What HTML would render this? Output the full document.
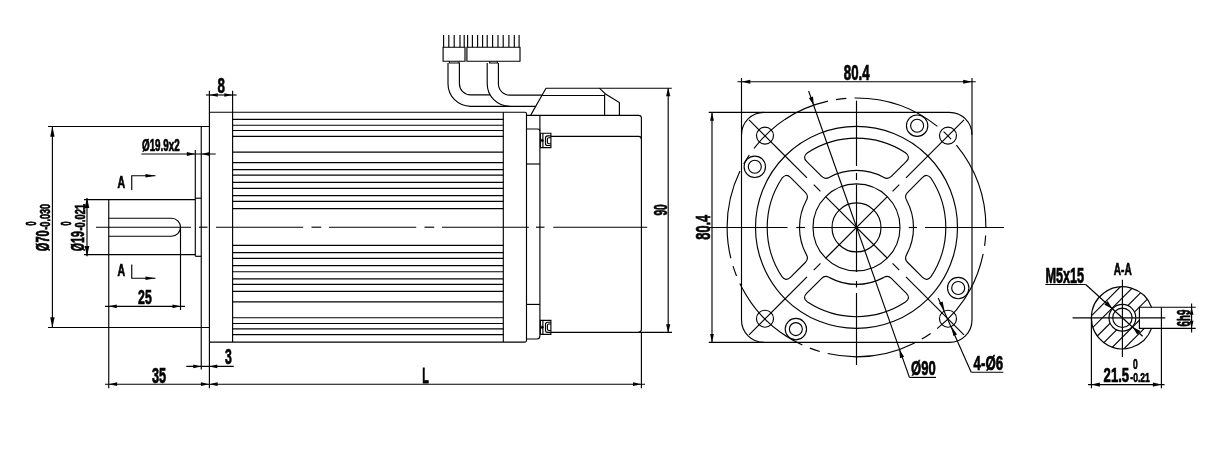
<!DOCTYPE html>
<html><head><meta charset="utf-8"><title>Motor drawing</title>
<style>
html,body{margin:0;padding:0;background:#fff;}
body{width:1223px;height:469px;overflow:hidden;font-family:"Liberation Sans",sans-serif;}
svg{display:block;}
svg line,svg path,svg circle{fill:none;stroke:#000;stroke-width:1.15;}
svg .ar{fill:#000;stroke:none;}
svg text{font-family:"Liberation Sans",sans-serif;font-weight:700;fill:#000;stroke:#000;vector-effect:non-scaling-stroke;}
</style></head><body>
<svg width="1223" height="469" viewBox="0 0 1223 469">
<rect x="0" y="0" width="1223" height="469" fill="#fff"/>
<g opacity="0.999">
<g id="side">
<line x1="84" y1="199.6" x2="195.3" y2="199.6"/>
<line x1="84" y1="254.6" x2="195.3" y2="254.6"/>
<line x1="108.75" y1="199.5" x2="108.75" y2="388.2"/>
<path d="M108.75 218.25H171.5A9 9 0 0 1 171.5 236.25H108.75"/>
<line x1="180.5" y1="227" x2="180.5" y2="310"/>
<line x1="195.3" y1="150" x2="195.3" y2="256.3"/>
<line x1="195.3" y1="198.2" x2="201.25" y2="198.2"/>
<line x1="195.3" y1="256.3" x2="201.25" y2="256.3"/>
<line x1="201.25" y1="126.5" x2="201.25" y2="369.6"/>
<line x1="48" y1="126.5" x2="209.25" y2="126.5"/>
<line x1="48" y1="327.5" x2="209.25" y2="327.5"/>
<line x1="209.4" y1="90.8" x2="209.4" y2="388.2"/>
<line x1="232.6" y1="90.8" x2="232.6" y2="342.1"/>
<path d="M209.4 112.25H525Q526.5 112.25 526.5 113.75V340.6Q526.5 342.1 525 342.1H209.4" stroke-width="1.25"/>
<line x1="232.5" y1="119.4" x2="503.3" y2="119.4" stroke-width="1"/>
<line x1="232.5" y1="334.6" x2="503.3" y2="334.6" stroke-width="1"/>
<line x1="232.5" y1="125.2" x2="503.3" y2="125.2" stroke-width="1"/>
<line x1="232.5" y1="328.8" x2="503.3" y2="328.8" stroke-width="1"/>
<line x1="232.5" y1="130.5" x2="503.3" y2="130.5" stroke-width="1"/>
<line x1="232.5" y1="323.5" x2="503.3" y2="323.5" stroke-width="1"/>
<line x1="232.5" y1="136.3" x2="503.3" y2="136.3" stroke-width="1"/>
<line x1="232.5" y1="317.7" x2="503.3" y2="317.7" stroke-width="1"/>
<line x1="232.5" y1="152.1" x2="503.3" y2="152.1" stroke-width="1"/>
<line x1="232.5" y1="301.9" x2="503.3" y2="301.9" stroke-width="1"/>
<line x1="232.5" y1="162.6" x2="503.3" y2="162.6" stroke-width="1"/>
<line x1="232.5" y1="291.4" x2="503.3" y2="291.4" stroke-width="1"/>
<line x1="232.5" y1="169.6" x2="503.3" y2="169.6" stroke-width="1"/>
<line x1="232.5" y1="284.4" x2="503.3" y2="284.4" stroke-width="1"/>
<line x1="232.5" y1="175.1" x2="503.3" y2="175.1" stroke-width="1"/>
<line x1="232.5" y1="278.9" x2="503.3" y2="278.9" stroke-width="1"/>
<line x1="232.5" y1="182.3" x2="503.3" y2="182.3" stroke-width="1"/>
<line x1="232.5" y1="271.7" x2="503.3" y2="271.7" stroke-width="1"/>
<line x1="232.5" y1="188.4" x2="503.3" y2="188.4" stroke-width="1"/>
<line x1="232.5" y1="265.6" x2="503.3" y2="265.6" stroke-width="1"/>
<line x1="232.5" y1="195.6" x2="503.3" y2="195.6" stroke-width="1"/>
<line x1="232.5" y1="258.4" x2="503.3" y2="258.4" stroke-width="1"/>
<line x1="232.5" y1="201.4" x2="503.3" y2="201.4" stroke-width="1"/>
<line x1="232.5" y1="252.6" x2="503.3" y2="252.6" stroke-width="1"/>
<line x1="232.5" y1="208.6" x2="503.3" y2="208.6" stroke-width="1"/>
<line x1="232.5" y1="245.4" x2="503.3" y2="245.4" stroke-width="1"/>
<line x1="503.3" y1="112.25" x2="503.3" y2="342.1"/>
<line x1="539.9" y1="115.3" x2="539.9" y2="336" stroke-width="1"/>
<path d="M526.5 129H537.9Q539.9 129 539.9 131.2"/>
<line x1="526.5" y1="164" x2="539.9" y2="164"/>
<line x1="526.5" y1="304.4" x2="539.9" y2="304.4"/>
<path d="M539.9 336Q539.9 339 536.9 339H526.5"/>
<path d="M526.5 115.3H638.6Q641.4 115.3 641.4 118.1V329.3Q641.4 332.3 638.4 332.3H550.9" stroke-width="1.25"/>
<path d="M550.9 136.4H638.6Q641.4 136.4 641.4 139.2"/>
<line x1="641.4" y1="332.3" x2="641.4" y2="388.2"/>
<path d="M540.4 133.25 H550.9V147.6H540.4Z"/>
<line x1="542.9" y1="133.25" x2="542.9" y2="147.6" stroke-width="0.9"/>
<path d="M550.9 135.9 H547.6Q545.5 135.9 545.5 138V143.4Q545.5 145.5 547.6 145.5H550.9"/>
<path d="M550.9 137.7 H548.8Q547.4 137.7 547.4 139.1V142.3Q547.4 143.7 548.8 143.7H550.9" stroke-width="0.8"/>
<path d="M540 140.43 H543.6M541.6 138.83 L543.2 140.43 L541.6 142.03" stroke-width="0.8"/>
<path d="M540.4 320.3 H550.9V334.4H540.4Z"/>
<line x1="542.9" y1="320.3" x2="542.9" y2="334.4" stroke-width="0.9"/>
<path d="M550.9 322.2 H547.6Q545.5 322.2 545.5 324.3V330.2Q545.5 332.3 547.6 332.3H550.9"/>
<path d="M550.9 324 H548.8Q547.4 324 547.4 325.4V329.1Q547.4 330.5 548.8 330.5H550.9" stroke-width="0.8"/>
<path d="M540 327.35 H543.6M541.6 325.75 L543.2 327.35 L541.6 328.95" stroke-width="0.8"/>
<path d="M530.7 115.1L546 88.2H599.4L605.5 94L619.4 102.6V115.5"/>
<line x1="604.6" y1="94.2" x2="604.6" y2="115.5"/>
<line x1="542.2" y1="95.5" x2="604.6" y2="95.5"/>
<line x1="599.4" y1="88.2" x2="671.8" y2="88.2"/>
<path d="M487.2 63V83.8A22.5 22.5 0 0 0 509.7 106.3"/>
<path d="M498.4 63V83.8A11.3 11.3 0 0 0 509.7 95.1H542.1"/>
<path d="M448 63V83.8A22.5 22.5 0 0 0 470.5 106.3H535.7"/>
<path d="M459.4 63V83.8A11.1 11.1 0 0 0 470.5 94.9H490.2"/>
<path d="M449.4 61.2V63H459V61.2M489.7 61.2V63H497.4V61.2"/>
<path d="M443.1 47.2H465V61.2H443.1Z"/>
<path d="M466.9 47.2H520V61.2H466.9Z"/>
<line x1="443.6" y1="35.1" x2="443.6" y2="47.2"/>
<line x1="448.8" y1="35.1" x2="448.8" y2="47.2"/>
<line x1="454.2" y1="35.1" x2="454.2" y2="47.2"/>
<line x1="460" y1="35.1" x2="460" y2="47.2"/>
<line x1="464.2" y1="35.1" x2="464.2" y2="47.2"/>
<line x1="467.6" y1="35.1" x2="467.6" y2="47.2"/>
<line x1="472.4" y1="35.1" x2="472.4" y2="47.2"/>
<line x1="477.6" y1="35.1" x2="477.6" y2="47.2"/>
<line x1="482.6" y1="35.1" x2="482.6" y2="47.2"/>
<line x1="487.2" y1="35.1" x2="487.2" y2="47.2"/>
<line x1="492.6" y1="35.1" x2="492.6" y2="47.2"/>
<line x1="498" y1="35.1" x2="498" y2="47.2"/>
<line x1="503.2" y1="35.1" x2="503.2" y2="47.2"/>
<line x1="508.9" y1="35.1" x2="508.9" y2="47.2"/>
<line x1="514.3" y1="35.1" x2="514.3" y2="47.2"/>
<line x1="519.1" y1="35.1" x2="519.1" y2="47.2"/>
<line x1="96" y1="227.2" x2="191" y2="227.2"/>
<line x1="199" y1="227.2" x2="207.5" y2="227.2"/>
<line x1="216" y1="227.2" x2="303.2" y2="227.2"/>
<line x1="311.5" y1="227.2" x2="321.2" y2="227.2"/>
<line x1="329" y1="227.2" x2="416.2" y2="227.2"/>
<line x1="424.5" y1="227.2" x2="434.2" y2="227.2"/>
<line x1="442" y1="227.2" x2="528.8" y2="227.2"/>
<line x1="536" y1="227.2" x2="544.5" y2="227.2"/>
<line x1="553.2" y1="227.2" x2="647.2" y2="227.2"/>
</g>
<g id="sdim">
<line x1="205.9" y1="95" x2="236.6" y2="95"/>
<polygon class="ar" points="209.4,95 217.7,93.3 217.7,96.7"/>
<polygon class="ar" points="232.6,95 224.3,96.7 224.3,93.3"/>
<text transform="translate(217.4 92.89) scale(0.6269 1)" font-size="21.27" stroke-width="0.6">8</text>
<line x1="52.4" y1="126.5" x2="52.4" y2="327.5"/>
<polygon class="ar" points="52.4,126.3 54.6,136.7 50.2,136.7"/>
<polygon class="ar" points="52.4,327.7 50.2,317.3 54.6,317.3"/>
<line x1="87" y1="198" x2="87" y2="256.3"/>
<polygon class="ar" points="87,197.6 89.3,208 84.7,208"/>
<polygon class="ar" points="87,256.4 84.7,246 89.3,246"/>
<line x1="141.3" y1="154" x2="215.7" y2="154"/>
<polygon class="ar" points="195.3,154 186.8,155.9 186.8,152.1"/>
<polygon class="ar" points="201.25,154 209.75,152.1 209.75,155.9"/>
<text transform="translate(142 151.17) scale(0.6226 1)" font-size="15.79" stroke-width="0.6">Ø19.9x2</text>
<line x1="105" y1="306.3" x2="185" y2="306.3"/>
<polygon class="ar" points="108.75,306.3 116.75,304.4 116.75,308.2"/>
<polygon class="ar" points="180.5,306.3 172.5,308.2 172.5,304.4"/>
<text transform="translate(138.1 304.19) scale(0.5842 1)" font-size="21.13" stroke-width="0.6">25</text>
<line x1="186.25" y1="366.4" x2="233.75" y2="366.4"/>
<polygon class="ar" points="201.25,366.4 193.25,368.3 193.25,364.5"/>
<polygon class="ar" points="209.25,366.4 217.25,364.5 217.25,368.3"/>
<text transform="translate(225.1 364.19) scale(0.5761 1)" font-size="21.27" stroke-width="0.6">3</text>
<line x1="105" y1="384.2" x2="645" y2="384.2"/>
<polygon class="ar" points="108.75,384.2 117.15,382.3 117.15,386.1"/>
<polygon class="ar" points="209.25,384.2 200.85,386.1 200.85,382.3"/>
<polygon class="ar" points="209.25,384.2 217.65,382.3 217.65,386.1"/>
<polygon class="ar" points="641.4,384.2 633,386.1 633,382.3"/>
<text transform="translate(152 382.68) scale(0.5856 1)" font-size="21.69" stroke-width="0.6">35</text>
<text transform="translate(422.3 382.8) scale(0.4879 1)" font-size="22.17" stroke-width="0.6">L</text>
<line x1="668.2" y1="88.2" x2="668.2" y2="332.3"/>
<polygon class="ar" points="668.2,87.8 670.3,96.2 666.1,96.2"/>
<polygon class="ar" points="668.2,332.7 666.1,324.3 670.3,324.3"/>
<line x1="638.4" y1="332.3" x2="672" y2="332.3"/>
<text transform="translate(666.52 215.6) rotate(-90) scale(0.5518 1)" font-size="18.45" stroke-width="0.6">90</text>
<text transform="translate(49.46 251.2) rotate(-90) scale(0.5960 1)" font-size="18.55" stroke-width="0.6">Ø70</text>
<text transform="translate(50.05 229.7) rotate(-90) scale(0.6096 1)" font-size="14.93" stroke-width="0.6">-0.030</text>
<text transform="translate(36.06 225.6) rotate(-90) scale(0.5169 1)" font-size="13.94" stroke-width="0.8" font-weight="400">0</text>
<text transform="translate(84.23 251.2) rotate(-90) scale(0.5536 1)" font-size="19.21" stroke-width="0.6">Ø19</text>
<text transform="translate(84.86 230.5) rotate(-90) scale(0.6531 1)" font-size="14.37" stroke-width="0.6">-0.021</text>
<text transform="translate(70.76 225.6) rotate(-90) scale(0.5169 1)" font-size="13.94" stroke-width="0.8" font-weight="400">0</text>
<text transform="translate(117.5 188.3) scale(0.6621 1)" font-size="15.94" stroke-width="0.6">A</text>
<text transform="translate(117.5 275.9) scale(0.6621 1)" font-size="15.94" stroke-width="0.6">A</text>
<path d="M131.75 190V175.7H155.5"/>
<polygon class="ar" points="155.5,175.7 145.5,177.5 145.5,173.9"/>
<path d="M131.75 264.5V278.2H155.5"/>
<polygon class="ar" points="155.5,278.2 145.5,280 145.5,276.4"/>
</g>
<g id="front">
<path d="M764 112.35H949.5A22.5 22.5 0 0 1 972 134.85V319.9A22.5 22.5 0 0 1 949.5 342.4H764A22.5 22.5 0 0 1 741.5 319.9V134.85A22.5 22.5 0 0 1 764 112.35Z"/>
<circle cx="856.5" cy="227.4" r="101"/>
<circle cx="856.5" cy="227.4" r="43.5"/>
<circle cx="856.5" cy="227.4" r="24.5"/>
<path d="M-48.95 -74.69 A89.3 89.3 0 0 1 48.95 -74.69 Q54.57 -70.69 49.69 -65.81 L34.82 -50.95 Q31.43 -47.55 26.97 -50.22 A57 57 0 0 0 -26.97 -50.22 Q-31.43 -47.55 -34.82 -50.95 L-49.69 -65.81 Q-54.57 -70.69 -48.95 -74.69Z" transform="translate(856.5 227.4) rotate(0)"/>
<path d="M-48.95 -74.69 A89.3 89.3 0 0 1 48.95 -74.69 Q54.57 -70.69 49.69 -65.81 L34.82 -50.95 Q31.43 -47.55 26.97 -50.22 A57 57 0 0 0 -26.97 -50.22 Q-31.43 -47.55 -34.82 -50.95 L-49.69 -65.81 Q-54.57 -70.69 -48.95 -74.69Z" transform="translate(856.5 227.4) rotate(90)"/>
<path d="M-48.95 -74.69 A89.3 89.3 0 0 1 48.95 -74.69 Q54.57 -70.69 49.69 -65.81 L34.82 -50.95 Q31.43 -47.55 26.97 -50.22 A57 57 0 0 0 -26.97 -50.22 Q-31.43 -47.55 -34.82 -50.95 L-49.69 -65.81 Q-54.57 -70.69 -48.95 -74.69Z" transform="translate(856.5 227.4) rotate(180)"/>
<path d="M-48.95 -74.69 A89.3 89.3 0 0 1 48.95 -74.69 Q54.57 -70.69 49.69 -65.81 L34.82 -50.95 Q31.43 -47.55 26.97 -50.22 A57 57 0 0 0 -26.97 -50.22 Q-31.43 -47.55 -34.82 -50.95 L-49.69 -65.81 Q-54.57 -70.69 -48.95 -74.69Z" transform="translate(856.5 227.4) rotate(270)"/>
<circle cx="856.5" cy="227.4" r="129.4" stroke-dasharray="89.43 8.13 10.46 8.13" stroke-dashoffset="89.43"/>
<circle cx="765" cy="135.6" r="8.5"/>
<circle cx="765" cy="318.7" r="8.5"/>
<circle cx="948" cy="135.6" r="8.5"/>
<circle cx="948" cy="318.7" r="8.5"/>
<circle cx="917.13" cy="125.7" r="10.7"/>
<circle cx="917.13" cy="125.7" r="6.5"/>
<circle cx="754.8" cy="166.77" r="10.7"/>
<circle cx="754.8" cy="166.77" r="6.5"/>
<circle cx="795.87" cy="329.1" r="10.7"/>
<circle cx="795.87" cy="329.1" r="6.5"/>
<circle cx="958.2" cy="288.03" r="10.7"/>
<circle cx="958.2" cy="288.03" r="6.5"/>
<line x1="709" y1="227.5" x2="787.5" y2="227.5"/>
<line x1="796.25" y1="227.5" x2="805" y2="227.5"/>
<line x1="813" y1="227.5" x2="900" y2="227.5"/>
<line x1="908.75" y1="227.5" x2="917" y2="227.5"/>
<line x1="925" y1="227.5" x2="1004" y2="227.5"/>
<line x1="856.5" y1="100.7" x2="856.5" y2="166"/>
<line x1="856.5" y1="173" x2="856.5" y2="180"/>
<line x1="856.5" y1="184.5" x2="856.5" y2="272"/>
<line x1="856.5" y1="281" x2="856.5" y2="287.5"/>
<line x1="856.5" y1="293" x2="856.5" y2="365"/>
<line x1="749.02" y1="119.92" x2="807" y2="177.9"/>
<line x1="813.72" y1="184.62" x2="820.44" y2="191.34"/>
<line x1="825.67" y1="196.57" x2="887.33" y2="258.23"/>
<line x1="892.56" y1="263.46" x2="899.28" y2="270.18"/>
<line x1="906" y1="276.9" x2="963.98" y2="334.88"/>
<line x1="749.02" y1="334.88" x2="807" y2="276.9"/>
<line x1="813.72" y1="270.18" x2="820.44" y2="263.46"/>
<line x1="825.67" y1="258.23" x2="887.33" y2="196.57"/>
<line x1="892.56" y1="191.34" x2="899.28" y2="184.62"/>
<line x1="906" y1="177.9" x2="963.98" y2="119.92"/>
</g>
<g id="fdim">
<line x1="737.5" y1="81.75" x2="975.75" y2="81.75"/>
<polygon class="ar" points="741.5,81.75 750.3,79.75 750.3,83.75"/>
<polygon class="ar" points="972,81.75 963.2,83.75 963.2,79.75"/>
<line x1="741.5" y1="78" x2="741.5" y2="134.85"/>
<line x1="972" y1="78" x2="972" y2="134.85"/>
<text transform="translate(843.8 80.08) scale(0.6116 1)" font-size="21.69" stroke-width="0.6">80.4</text>
<line x1="712" y1="112.35" x2="712" y2="342.4"/>
<polygon class="ar" points="712,112.35 713.9,120.75 710.1,120.75"/>
<polygon class="ar" points="712,342.4 710.1,334 713.9,334"/>
<line x1="708.75" y1="112.35" x2="764" y2="112.35"/>
<line x1="708.75" y1="342.4" x2="764" y2="342.4"/>
<text transform="translate(709.59 239.7) rotate(-90) scale(0.6201 1)" font-size="20.56" stroke-width="0.6">80.4</text>
<line x1="808.6" y1="91" x2="909.4" y2="377.4"/>
<line x1="909.4" y1="377.4" x2="936" y2="377.4"/>
<polygon class="ar" points="813.73,105.27 808.85,97.98 813,96.52"/>
<polygon class="ar" points="899.27,349.53 904.15,356.82 900,358.28"/>
<text transform="translate(911.1 374.88) scale(0.6341 1)" font-size="20.53" stroke-width="0.6">Ø90</text>
<line x1="938.2" y1="298.1" x2="971.2" y2="372.2"/>
<line x1="971.2" y1="372.2" x2="1003.3" y2="372.2"/>
<polygon class="ar" points="944.59,310.91 938.94,303.02 942.6,301.41"/>
<polygon class="ar" points="951.41,326.49 957.06,334.38 953.4,335.99"/>
<text transform="translate(973.6 370) scale(0.6629 1)" font-size="20" stroke-width="0.6">4-Ø6</text>
</g>
<g id="sec">
<clipPath id="hc1"><circle cx="1122.4" cy="317.8" r="31"/></clipPath>
<clipPath id="hc"><path clip-rule="evenodd" d="M1080 280H1170V360H1080Z M1109 317.8a13.4 13.4 0 1 0 26.8 0a13.4 13.4 0 1 0 -26.8 0Z M1139.4 307.2H1168V328.3H1139.4Z"/></clipPath>
<g clip-path="url(#hc1)">
<g clip-path="url(#hc)">
<line x1="1047.2" y1="360" x2="1127.2" y2="280"/>
<line x1="1060.3" y1="360" x2="1140.3" y2="280"/>
<line x1="1073.4" y1="360" x2="1153.4" y2="280"/>
<line x1="1086.5" y1="360" x2="1166.5" y2="280"/>
<line x1="1099.6" y1="360" x2="1179.6" y2="280"/>
<line x1="1112.7" y1="360" x2="1192.7" y2="280"/>
</g></g>
<path d="M1151.53 307.2A31 31 0 1 0 1151.57 328.3"/>
<path d="M1195.7 307.2H1139.4V328.4H1195.7"/>
<line x1="1161.4" y1="307.2" x2="1161.4" y2="388.2"/>
<circle cx="1122.4" cy="317.8" r="13.4"/>
<circle cx="1122.4" cy="317.8" r="9.7"/>
<line x1="1072.6" y1="317.8" x2="1165.3" y2="317.8"/>
<line x1="1122.4" y1="279.7" x2="1122.4" y2="357"/>
<line x1="1091.4" y1="317.8" x2="1091.4" y2="388.2"/>
</g>
<g id="secdim">
<line x1="1088" y1="384.6" x2="1164.5" y2="384.6"/>
<polygon class="ar" points="1091.4,384.6 1099.9,382.4 1099.9,386.8"/>
<polygon class="ar" points="1161.4,384.6 1152.9,386.8 1152.9,382.4"/>
<text transform="translate(1103.6 382.2) scale(0.6509 1)" font-size="20.14" stroke-width="0.6">21.5</text>
<text transform="translate(1130.3 382.26) scale(0.6358 1)" font-size="13.52" stroke-width="0.6">-0.21</text>
<text transform="translate(1133 368.56) scale(0.6013 1)" font-size="14.08" stroke-width="0.6">0</text>
<line x1="1191.6" y1="303.4" x2="1191.6" y2="332.4"/>
<polygon class="ar" points="1191.6,307 1193.5,314.8 1189.7,314.8"/>
<polygon class="ar" points="1191.6,328.5 1189.7,320.7 1193.5,320.7"/>
<text transform="translate(1190.22 326.4) rotate(-90) scale(0.5539 1)" font-size="17.69" stroke-width="0.6">6h9</text>
<text transform="translate(1113.8 274.5) scale(0.5947 1)" font-size="16.96" stroke-width="0.6">A-A</text>
<text transform="translate(1045.4 282.69) scale(0.5997 1)" font-size="21.14" stroke-width="0.6">M5x15</text>
<line x1="1045.4" y1="284.5" x2="1085.7" y2="284.5"/>
<line x1="1085.7" y1="284.5" x2="1142.6" y2="336.3"/>
<polygon class="ar" points="1112.49,308.78 1104.37,304.63 1107.6,301.08"/>
<polygon class="ar" points="1132.31,326.82 1140.43,330.97 1137.2,334.52"/>
</g>
</g>
</svg>
</body></html>
